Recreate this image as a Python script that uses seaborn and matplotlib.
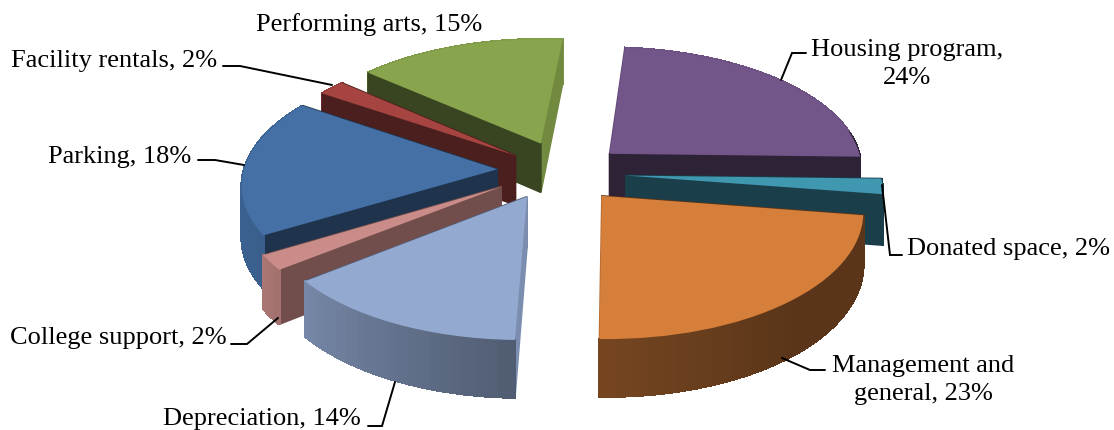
import numpy as np
import matplotlib
matplotlib.use("Agg")
import matplotlib.pyplot as plt
from matplotlib.colors import to_rgb
from matplotlib.transforms import Transform
import seaborn as sns

labels = ["Housing program,\n24%", "Donated space, 2%", "Management and\ngeneral, 23%",
          "Depreciation, 14%", "College support, 2%", "Parking, 18%",
          "Facility rentals, 2%", "Performing arts, 15%"]
values = [24, 2, 23, 14, 2, 18, 2, 15]
explode = [0.24, 0.24, 0.24, 0.24, 0.24, 0.24, 0.24, 0.24]
hex_colors = ["#725589", "#3f97b0", "#d67f3b", "#93a9d0", "#c98c88", "#4470a6", "#a54440", "#88a44c"]
wall_dark = [0.40, 0.42, 0.42, 0.55, 0.56, 0.46, 0.45, 0.42]
label_x = [907, 907, 923, 163, 10, 48, 11, 256]
label_y = [64, 249, 380, 419, 338, 157, 61, 25]
label_ha = ["center", "left", "center", "left", "left", "left", "left", "left"]
leader_x = [[806, 792, 781], [902, 890, 882], [825, 810, 782], [368, 382, 395],
            [231, 247, 278], [198, 215, 244], [223, 240, 332], []]
leader_y = [[53, 53, 80], [255, 255, 185], [370, 370, 358], [426, 426, 382],
            [344, 344, 318], [160, 160, 165], [66, 66, 85], []]
nudge_x = [0, 0, -3, -10, -13, -7, -2, -2]
nudge_y = [0, 0, 0, 3, 3, 3, 0, 3]

CX, CY, S, SQ, K, D = 565.0, 173.0, 254.0, 122.0, 0.11, 50.0
RIM_ANGLE = [-230, -150, -92, -50, 10]
RIM_SHADE = [0.95, 0.85, 0.55, 0.42, 0.42]


def project(x, y, z=0.0):
    w = 1 + K * y
    return CX + S * x / w, CY - SQ * y / w + D * z / w


class Projection(Transform):
    input_dims = output_dims = 2
    is_separable = False
    has_inverse = False

    def transform_non_affine(self, values):
        v = np.asarray(values)
        px, py = project(v[:, 0], v[:, 1])
        return np.column_stack([px, py])


sns.set_theme(style="white")
plt.rcParams["font.family"] = ["Liberation Serif", "DejaVu Serif"]
palette = sns.color_palette(hex_colors)

fig, ax = plt.subplots(figsize=(11.14, 4.30), dpi=100)
fig.subplots_adjust(0, 0, 1, 1)
wedges, _ = ax.pie(values, explode=explode, startangle=85, counterclock=False,
                   colors=palette, radius=1.0)
ax.set_aspect("auto")
ax.set_xlim(0, 1114)
ax.set_ylim(430, 0)
ax.axis("off")

projection = Projection() + ax.transData
order = np.argsort([-w.center[1] for w in wedges])
for rank, idx in enumerate(order):
    w = wedges[idx]
    w.set_center((w.center[0] + nudge_x[idx] / S, w.center[1] + nudge_y[idx] / SQ))
    base = np.array(to_rgb(palette[idx]))
    cx, cy, r = w.center[0], w.center[1], w.r
    t1, t2 = w.theta1, w.theta2
    faces = []

    def quad(p, q):
        xs, ys = zip(project(*p, 0), project(*q, 0), project(*q, 1), project(*p, 1))
        return xs, ys

    for theta, sign in ((t1, -1), (t2, 1)):
        a = np.radians(theta)
        edge = (cx + r * np.cos(a), cy + r * np.sin(a))
        nx = np.cos(a + sign * np.pi / 2)
        shade = 0.84 if abs(nx) > 0.8 else wall_dark[idx]
        faces.append(((cy + edge[1]) / 2, quad((cx, cy), edge), base * shade, True))
    steps = np.linspace(t1, t2, max(3, int((t2 - t1) / 1.5) + 1))
    for a0, a1 in zip(steps[:-1], steps[1:]):
        am = np.radians((a0 + a1) / 2)
        p = (cx + r * np.cos(np.radians(a0)), cy + r * np.sin(np.radians(a0)))
        q = (cx + r * np.cos(np.radians(a1)), cy + r * np.sin(np.radians(a1)))
        ang = (a0 + a1) / 2
        ang = ang - 360 if ang > 10 else ang
        shade = np.interp(ang, RIM_ANGLE, RIM_SHADE)
        faces.append((cy + r * np.sin(am), quad(p, q), base * shade, False))
    faces.sort(key=lambda f: -f[0])
    for j, (_, (xs, ys), col, smooth) in enumerate(faces):
        ax.fill(xs, ys, color=col, lw=1.2, antialiased=smooth,
                zorder=10 + rank + j * 0.001)
    w.set_transform(projection)
    w.set_zorder(10.9 + rank)
    w.set_edgecolor("none")

for xs, ys in zip(leader_x, leader_y):
    if xs:
        ax.plot(xs, ys, color="black", lw=1.4, zorder=30, solid_joinstyle="miter")
for text, x, y, ha in zip(labels, label_x, label_y, label_ha):
    ax.text(x, y, text, ha=ha, va="center", fontsize=19, color="black",
            linespacing=1.3, zorder=31)

sns.despine(left=True, bottom=True)
fig.savefig("out.png", dpi=100, facecolor="white")
